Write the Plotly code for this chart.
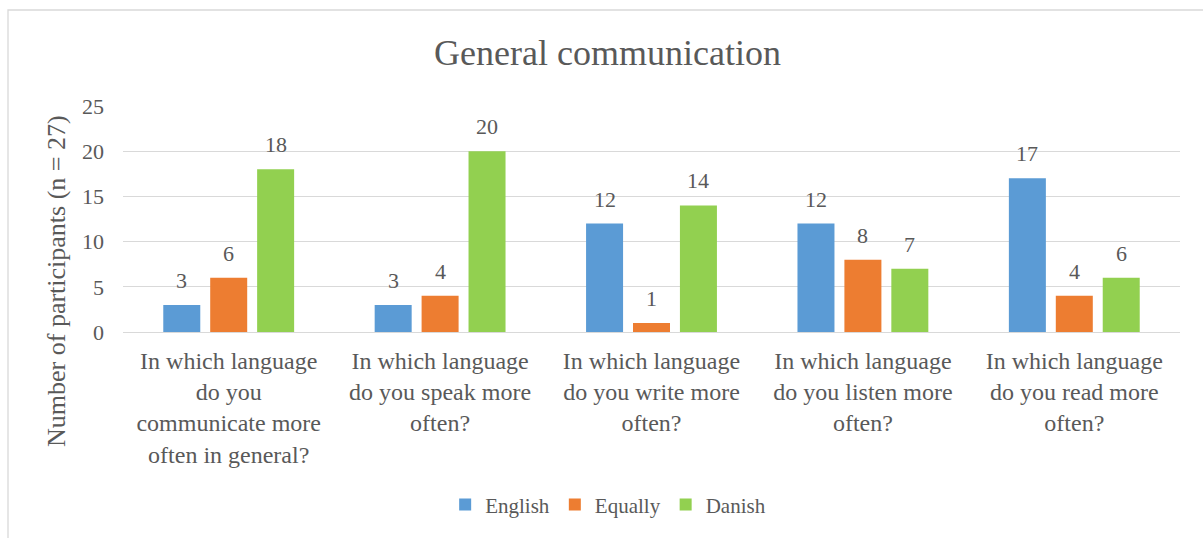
import plotly.graph_objects as go

# Survey questions (x axis) and answer counts per language
questions = [
    "In which language<br>do you<br>communicate more<br>often in general?",
    "In which language<br>do you speak more<br>often?",
    "In which language<br>do you write more<br>often?",
    "In which language<br>do you listen more<br>often?",
    "In which language<br>do you read more<br>often?",
]
english = [3, 3, 12, 12, 17]
equally = [6, 4, 1, 8, 4]
danish = [18, 20, 14, 7, 6]

series_names = ["English", "Equally", "Danish"]
series_values = [english, equally, danish]
series_colors = ["#5B9BD5", "#ED7D31", "#92D050"]

FONT = "'Liberation Serif', 'Times New Roman', serif"
TEXT_COLOR = "#595959"
GRID = "#D9D9D9"

BAR_W = 0.175
STEP = 0.222
offsets = [-STEP - BAR_W / 2, -BAR_W / 2, STEP - BAR_W / 2]

xs = list(range(len(questions)))

fig = go.Figure()
annotations = []
for name, vals, color, off in zip(series_names, series_values, series_colors, offsets):
    fig.add_trace(go.Bar(
        x=xs, y=vals, name=name,
        width=BAR_W, offset=off,
        marker=dict(color=color, line=dict(width=0)),
    ))
    for xi, v in zip(xs, vals):
        annotations.append(dict(
            x=xi + off + BAR_W / 2, y=v, xref="x", yref="y",
            text=str(v), showarrow=False, yanchor="bottom", yshift=10,
            font=dict(family=FONT, size=22, color=TEXT_COLOR),
        ))

# y axis title
annotations.append(dict(
    x=-0.0624, y=0.226, xref="paper", yref="paper",
    text="Number of participants (n = 27)", textangle=-90, showarrow=False,
    xanchor="center", yanchor="middle",
    font=dict(family=FONT, size=26, color=TEXT_COLOR),
))

fig.update_layout(
    width=1203, height=538,
    margin=dict(l=123, r=23, t=106, b=206),
    paper_bgcolor="white", plot_bgcolor="white",
    title=dict(
        text="General communication", x=0.505, y=0.903,
        xanchor="center", yanchor="middle",
        font=dict(family=FONT, size=36, color=TEXT_COLOR),
    ),
    showlegend=True,
    legend=dict(
        orientation="h", x=0.459, y=-0.765, xanchor="center", yanchor="middle",
        font=dict(family=FONT, size=21, color=TEXT_COLOR),
        itemwidth=30, traceorder="normal",
    ),
    annotations=annotations,
    shapes=[dict(
        type="rect", xref="paper", yref="paper",
        x0=-0.1088, x1=1.05, y0=-1.0, y1=1.4248,
        line=dict(color=GRID, width=1.3), fillcolor="rgba(0,0,0,0)", layer="below",
    )],
)

fig.update_xaxes(
    range=[-0.5, 4.5], tickmode="array", tickvals=xs, ticktext=questions,
    showgrid=False, zeroline=False, showline=False, ticks="",
    tickfont=dict(family=FONT, size=24, color=TEXT_COLOR), tickangle=0,
    ticklabelstandoff=12,
)
fig.update_yaxes(
    range=[0, 25], dtick=5, showgrid=True, gridcolor=GRID, gridwidth=1.3,
    zeroline=True, zerolinecolor=GRID, zerolinewidth=1.3, showline=False, ticks="",
    tickfont=dict(family=FONT, size=22, color=TEXT_COLOR), ticklabelstandoff=18,
)

fig.write_html("out.html")
